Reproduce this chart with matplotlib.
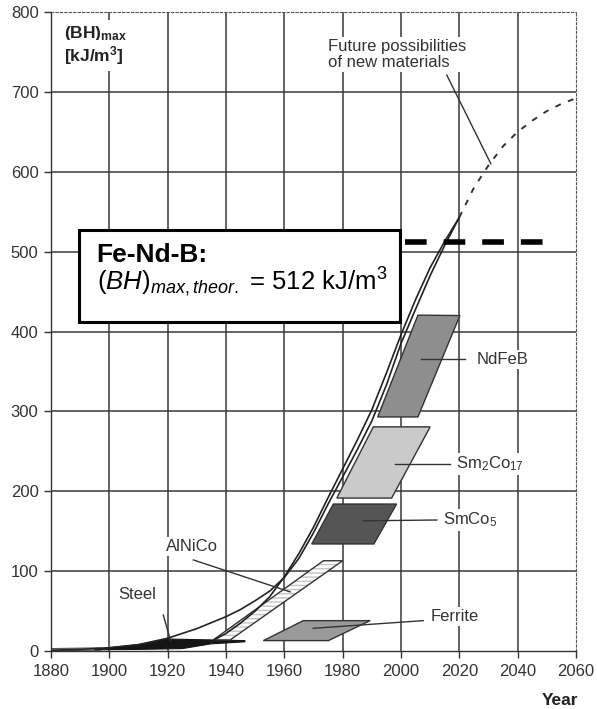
#!/usr/bin/env python3
"""Development of the energy product (BH)max of permanent magnet materials."""

import matplotlib
matplotlib.use('Agg')
import matplotlib.pyplot as plt
from matplotlib.patches import Polygon, Rectangle

plt.rcParams['font.family'] = 'Liberation Sans'
plt.rcParams['mathtext.fontset'] = 'custom'
plt.rcParams['mathtext.rm'] = 'Liberation Sans'
plt.rcParams['mathtext.it'] = 'Liberation Sans:italic'
plt.rcParams['mathtext.bf'] = 'Liberation Sans:bold'

# --- data ---
x_ticks = list(range(1880, 2061, 20))
y_ticks = list(range(0, 801, 100))

# outer envelope (solid)
env_years = [1880, 1890, 1900, 1910, 1920, 1930, 1940, 1945, 1950, 1955, 1960,
             1965, 1970, 1975, 1980, 1985, 1990, 1995, 2000, 2005, 2010, 2015, 2020]
env_vals = [1, 2, 4, 8, 16, 28, 43, 52, 63, 75, 92,
            116, 148, 184, 218, 252, 288, 333, 385, 428, 470, 508, 543]

# second curve starting at AlNiCo
inner_years = [1935, 1940, 1945, 1950, 1955, 1960, 1965, 1970, 1975, 1980,
               1985, 1990, 1995, 2000, 2005, 2010, 2015, 2020]
inner_vals = [12, 22, 35, 50, 68, 93, 122, 155, 192, 228,
              264, 302, 348, 396, 440, 480, 513, 543]

# future possibilities (dashed)
future_years = [2020, 2025, 2030, 2035, 2040, 2045, 2050, 2055, 2060]
future_vals = [543, 580, 608, 632, 650, 664, 676, 685, 692]

# theoretical limit of Fe-Nd-B
theor_max = 512
theor_years = [2001.3, 2050]

# material areas (corner points)
steel_years = [1895, 1910, 1920, 1946.5, 1946.5, 1935, 1925, 1910, 1895]
steel_vals = [2.5, 8, 15, 13, 11.5, 9, 3, 2, 1.5]
early_years = [1880, 1880, 1897, 1897]
early_vals = [0.5, 3, 4, 1]
alnico_years = [1935.6, 1973.4, 1980, 1941.4]
alnico_vals = [13.8, 113, 113, 13.8]
ferrite_years = [1952.8, 1966.5, 1989.4, 1975.1]
ferrite_vals = [13, 38, 38, 13]
smco5_years = [1969.4, 1976.8, 1998.5, 1990.7]
smco5_vals = [134, 184, 184, 134]
sm2co17_years = [1978, 1990.5, 2010, 1996.8]
sm2co17_vals = [191.5, 280.6, 280.6, 191.5]
ndfeb_years = [1992, 2005.8, 2020.2, 2005.8]
ndfeb_vals = [293, 420.5, 420, 293]

fig = plt.figure(figsize=(5.97, 7.09), dpi=100)
ax = fig.add_axes([51 / 597, 58 / 709, 525 / 597, 639 / 709])
ax.set_xlim(1880, 2060)
ax.set_ylim(0, 800)

# grid, drawn by hand so the outer frame can stay dashed
grid_kw = dict(color='#383838', lw=1.1, zorder=0)
for yv in y_ticks[1:-1]:
    ax.axhline(yv, **grid_kw)
for xv in x_ticks[1:-1]:
    ax.axvline(xv, **grid_kw)

for side in ['top', 'right']:
    ax.spines[side].set_linestyle((0, (2, 2)))
    ax.spines[side].set_color('#555555')
    ax.spines[side].set_linewidth(0.8)
for side in ['left', 'bottom']:
    ax.spines[side].set_color('#333333')
    ax.spines[side].set_linewidth(1.0)

ax.set_xticks(x_ticks)
ax.set_yticks(y_ticks)
ax.tick_params(direction='out', length=5, width=1, color='#333333',
               labelsize=12, labelcolor='#333333', pad=4)

# material areas
ax.add_patch(Polygon(list(zip(early_years, early_vals)), closed=True,
                     facecolor='#dddddd', edgecolor='#555555', lw=0.8, zorder=2))
ax.add_patch(Polygon(list(zip(steel_years, steel_vals)), closed=True,
                     facecolor='#151515', edgecolor='#151515', lw=0.8, zorder=2))
ax.add_patch(Polygon(list(zip(alnico_years, alnico_vals)), closed=True,
                     facecolor='white', edgecolor='#c4c4c4', hatch='----',
                     lw=0, zorder=2))
ax.add_patch(Polygon(list(zip(alnico_years, alnico_vals)), closed=True,
                     fill=False, edgecolor='#333333', lw=1.0, zorder=2))
ax.add_patch(Polygon(list(zip(ferrite_years, ferrite_vals)), closed=True,
                     facecolor='#9a9a9a', edgecolor='#333333', lw=1.0, zorder=2))
ax.add_patch(Polygon(list(zip(smco5_years, smco5_vals)), closed=True,
                     facecolor='#555555', edgecolor='#333333', lw=1.0, zorder=2))
ax.add_patch(Polygon(list(zip(sm2co17_years, sm2co17_vals)), closed=True,
                     facecolor='#cacaca', edgecolor='#333333', lw=1.0, zorder=2))
ax.add_patch(Polygon(list(zip(ndfeb_years, ndfeb_vals)), closed=True,
                     facecolor='#8e8e8e', edgecolor='#333333', lw=1.0, zorder=2))

# development curves
ax.plot(env_years, env_vals, color='#222222', lw=1.2, zorder=3)
ax.plot(inner_years, inner_vals, color='#222222', lw=1.2, zorder=3)
ax.plot(future_years, future_vals, color='#333333', lw=1.4,
        linestyle=(0, (3, 4)), zorder=3)
ax.plot(theor_years, [theor_max, theor_max], color='black', lw=4,
        linestyle=(0, (3.9, 3.05)), solid_capstyle='butt', zorder=3)

# labels with leader lines
lbl_kw = dict(fontsize=12, color='#333333', zorder=5,
              bbox=dict(facecolor='white', edgecolor='none', pad=1.5))
lead_kw = dict(color='#333333', lw=1.0, zorder=4)

ax.text(1909.7, 71, 'Steel', ha='center', va='center', **lbl_kw)
ax.plot([1918.5, 1921], [45, 13], **lead_kw)

ax.text(1928.5, 131, 'AlNiCo', ha='center', va='center', **lbl_kw)
ax.plot([1928.8, 1962], [114, 74], **lead_kw)

ax.text(2010.2, 43, 'Ferrite', ha='left', va='center', **lbl_kw)
ax.plot([1969.9, 2007.6], [28.4, 38], **lead_kw)

ax.text(2014.5, 164, r'SmCo$_5$', ha='left', va='center', **lbl_kw)
ax.plot([1987, 2012.3], [163, 164], **lead_kw)

ax.text(2018.9, 234, r'Sm$_2$Co$_{17}$', ha='left', va='center', **lbl_kw)
ax.plot([1998, 2016.8], [234, 234], **lead_kw)

ax.text(2026, 365, 'NdFeB', ha='left', va='center', **lbl_kw)
ax.plot([2007, 2022], [365, 365], **lead_kw)

ax.text(1975, 747, 'Future possibilities\nof new materials', ha='left',
        va='center', linespacing=1.05, **lbl_kw)
ax.plot([2015.7, 2030.8], [721, 610], **lead_kw)

# axis captions
ax.text(1884.5, 773, r'$\mathbf{(BH)}_{\mathbf{max}}$', fontsize=12.5,
        ha='left', va='center', color='#222222', zorder=5,
        bbox=dict(facecolor='white', edgecolor='none', pad=3))
ax.text(1884.5, 746, r'[kJ/m$^{\mathbf{3}}$]', fontsize=12.5, fontweight='bold',
        ha='left', va='center', color='#222222', zorder=5,
        bbox=dict(facecolor='white', edgecolor='none', pad=3))
ax.text(0.9695, -0.078, 'Year', transform=ax.transAxes, fontsize=12.5,
        fontweight='bold', ha='center', va='center', color='#222222')

# Fe-Nd-B info box
ax.add_patch(Rectangle((1889.6, 412), 110.1, 115, facecolor='white',
                       edgecolor='black', lw=2.2, zorder=6))
ax.text(1895.6, 487, 'Fe-Nd-B:', fontsize=19, fontweight='bold',
        ha='left', va='baseline', color='black', zorder=7)
ax.text(1895.6, 452,
        r'$\mathit{(BH)}_{\mathit{max,theor.}}$ = %d kJ/m$^3$' % theor_max,
        fontsize=18.5, ha='left', va='baseline', color='black', zorder=7)

fig.savefig('out.png', dpi=100)
